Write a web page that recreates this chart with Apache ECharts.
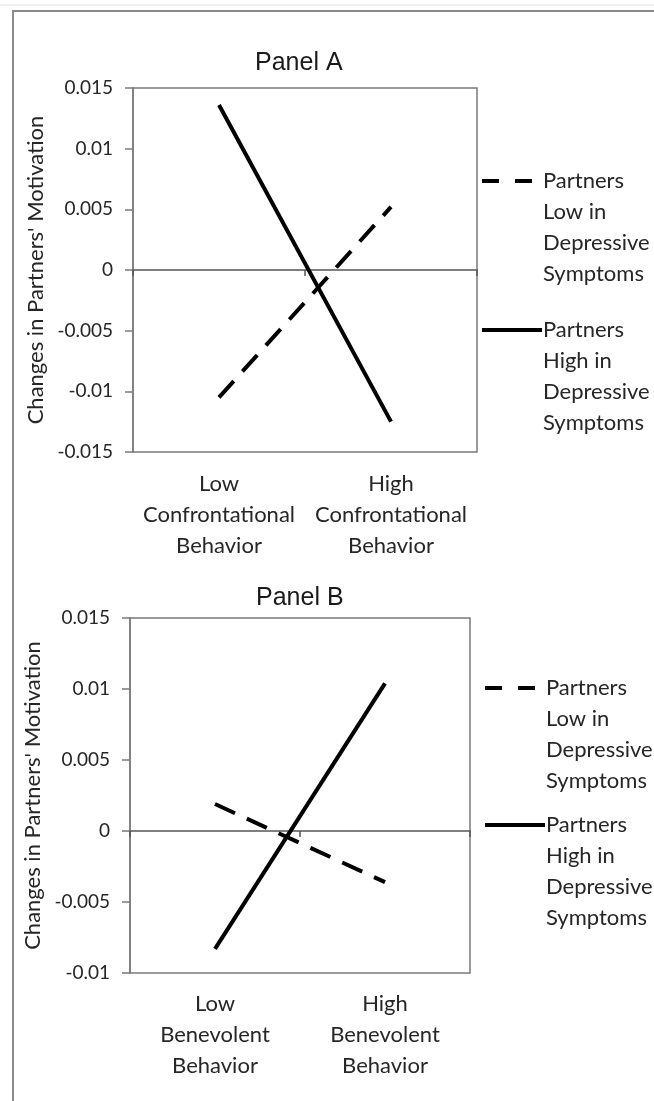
<!DOCTYPE html>
<html>
<head>
<meta charset="utf-8">
<script src="https://cdn.jsdelivr.net/npm/echarts@6/dist/echarts.min.js"></script>
<style>
html,body{margin:0;padding:0;background:#fff;}
#chart{width:654px;height:1101px;}
</style>
</head>
<body>
<div id="chart"></div>
<script>
// ---- data ----
const categoriesA = ['Low\nConfrontational\nBehavior', 'High\nConfrontational\nBehavior'];
const categoriesB = ['Low\nBenevolent\nBehavior', 'High\nBenevolent\nBehavior'];
const seriesNames = ['Partners\nLow in\nDepressive\nSymptoms', 'Partners\nHigh in\nDepressive\nSymptoms'];
const panelALowDep = [-0.0105, 0.0052];
const panelAHighDep = [0.0136, -0.0125];
const panelBLowDep = [0.0019, -0.0036];
const panelBHighDep = [-0.0083, 0.0104];
const panelTitles = ['Panel A', 'Panel B'];
const yAxisTitle = "Changes in Partners' Motivation";
const yRangeA = [-0.015, 0.015];
const yRangeB = [-0.01, 0.015];
const yStep = 0.005;

// ---- styles ----
const FONT = 'Lato';
const TEXT = '#262626';
const AXIS = '#7a7a7a';
const dashed = [22, 13];

const chart = echarts.init(document.getElementById('chart'), null, {renderer: 'canvas'});

function fmt(v) { return String(parseFloat(v.toFixed(3))); }

function xAxes(gi, cats, margin) {
  return [
    {gridIndex: gi, type: 'category', data: cats, position: 'bottom',
     axisLine: {show: false, onZero: false}, axisTick: {show: false},
     axisLabel: {margin: margin, fontFamily: FONT, fontSize: 22, lineHeight: 31, color: TEXT, interval: 0}},
    {gridIndex: gi, type: 'category', data: cats, position: 'top',
     axisLine: {show: true, onZero: true, lineStyle: {color: '#555', width: 1.5}},
     axisTick: {show: true, inside: true, length: 6, lineStyle: {color: '#555', width: 1.5}},
     axisLabel: {show: false}}
  ];
}
function yAxis(gi, range) {
  return {gridIndex: gi, type: 'value', min: range[0], max: range[1], interval: yStep,
    axisLine: {show: true, onZero: false, lineStyle: {color: AXIS, width: 1.5}},
    axisTick: {show: true, length: 8, lineStyle: {color: AXIS, width: 1.5}},
    splitLine: {show: false},
    axisLabel: {formatter: fmt, margin: 20, fontFamily: FONT, fontSize: 19, color: TEXT},
    name: yAxisTitle, nameLocation: 'middle', nameGap: 84,
    nameTextStyle: {fontFamily: FONT, fontSize: 22, color: TEXT}};
}
function lineSeries(name, xi, yi, data, dash) {
  return {type: 'line', name: name, xAxisIndex: xi, yAxisIndex: yi, data: data,
    symbol: 'none', silent: true, animation: false,
    lineStyle: {color: '#000', width: 4, type: dash ? dashed : 'solid'}};
}
function legendGraphics(x, yDash, ySolid) {
  const items = [];
  const entries = [[yDash, true, seriesNames[0]], [ySolid, false, seriesNames[1]]];
  entries.forEach(([y, dash, txt]) => {
    items.push({type: 'line', shape: {x1: x, y1: y, x2: x + (dash ? 50 : 60), y2: y},
      style: {stroke: '#000', lineWidth: 4, lineDash: dash ? [17, 16] : null}});
    items.push({type: 'text', x: x + 61, y: y - 15.5,
      style: {text: txt, font: '22px ' + FONT, fill: TEXT, lineHeight: 31, verticalAlign: 'top', align: 'left'}});
  });
  return items;
}

const option = {
  backgroundColor: '#fff',
  animation: false,
  title: [
    {text: panelTitles[0], left: 250, top: 46,
     textStyle: {fontFamily: 'Liberation Sans', fontSize: 25, fontWeight: 'normal', color: '#1a1a1a'}},
    {text: panelTitles[1], left: 251, top: 581,
     textStyle: {fontFamily: 'Liberation Sans', fontSize: 25, fontWeight: 'normal', color: '#1a1a1a'}}
  ],
  grid: [
    {left: 133, top: 88, width: 344, height: 364, show: true, borderColor: AXIS, borderWidth: 1.5, containLabel: false},
    {left: 130, top: 618, width: 340, height: 355, show: true, borderColor: AXIS, borderWidth: 1.5, containLabel: false}
  ],
  xAxis: [...xAxes(0, categoriesA, 16), ...xAxes(1, categoriesB, 15)],
  yAxis: [yAxis(0, yRangeA), yAxis(1, yRangeB)],
  series: [
    lineSeries(seriesNames[0], 0, 0, panelALowDep, true),
    lineSeries(seriesNames[1], 0, 0, panelAHighDep, false),
    lineSeries(seriesNames[0], 2, 1, panelBLowDep, true),
    lineSeries(seriesNames[1], 2, 1, panelBHighDep, false)
  ],
  graphic: [
    {type: 'line', shape: {x1: 0, y1: 5, x2: 654, y2: 5}, style: {stroke: '#ececec', lineWidth: 1.5}, silent: true},
    {type: 'rect', shape: {x: 13, y: 11, width: 700, height: 1200}, style: {stroke: '#8a8a8a', lineWidth: 2, fill: null}, silent: true},
    ...legendGraphics(482, 181, 330),
    ...legendGraphics(485, 688, 825)
  ]
};
chart.setOption(option);
</script>
</body>
</html>
